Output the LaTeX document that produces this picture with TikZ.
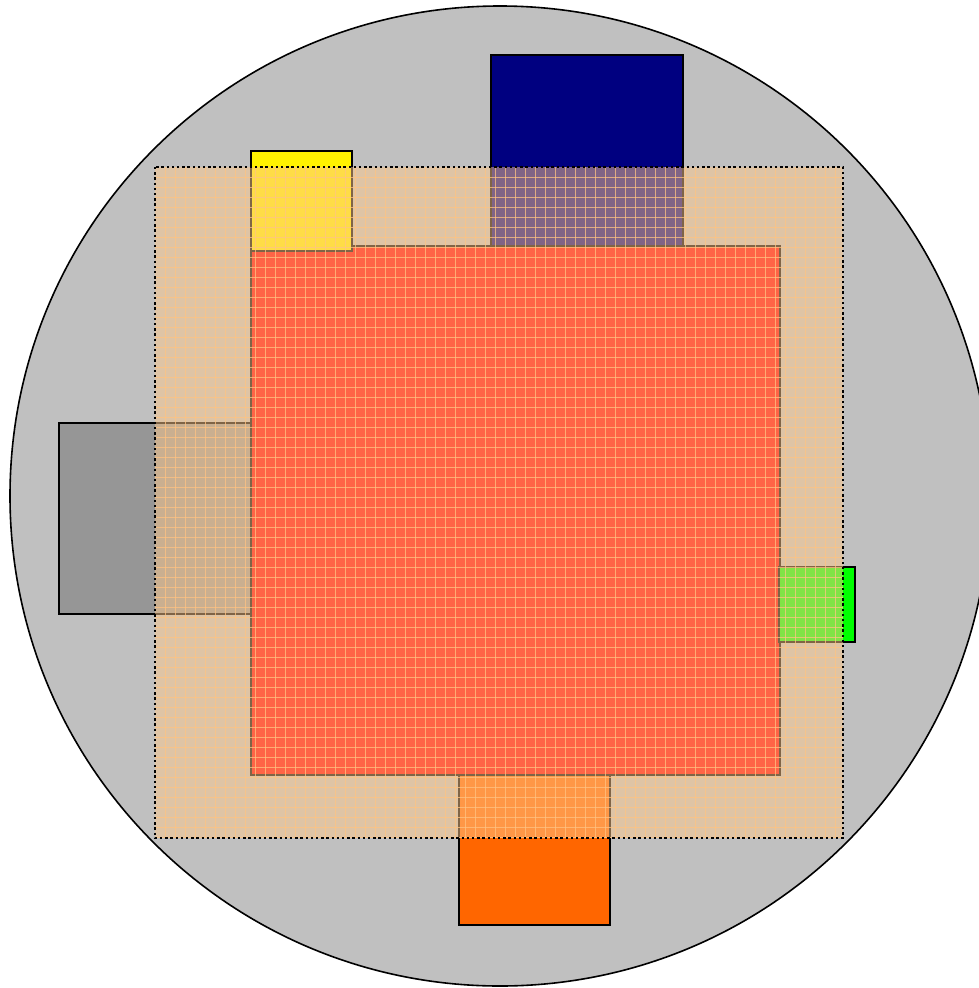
\documentclass[tikz,border=0pt]{standalone}
\begin{document}
\begin{tikzpicture}[x=1pt,y=-1pt,
  outline/.style={draw=black,line width=1.6pt},
  box/.style={outline},
  overlay/.style={fill={rgb,255:red,255;green,200;blue,140},fill opacity=0.5},
  gridline/.style={draw={rgb,255:red,255;green,195;blue,130},line width=0.9pt,opacity=0.75},
  dotborder/.style={draw=black,line width=2.4pt,dash pattern=on 2.4pt off 2.8pt}]
\useasboundingbox (0,0) rectangle (978,988);
% wafer
\draw[outline,fill={rgb,255:red,192;green,192;blue,192}] (500,496) circle (490);
% core
\draw[box,fill=red] (251,246) rectangle (780,775);
% peripheral boxes
\draw[box,fill=yellow] (251,151) rectangle (352,251);
\draw[box,fill={rgb,255:red,0;green,0;blue,128}] (491,55) rectangle (683,246);
\draw[box,fill={rgb,255:red,150;green,150;blue,150}] (59,423) rectangle (251,614);
\draw[box,fill={rgb,255:red,0;green,255;blue,0}] (779,567) rectangle (855,642);
\draw[box,fill={rgb,255:red,255;green,102;blue,0}] (459,775) rectangle (610,925);
% translucent overlay with grid
\fill[overlay] (155,167) rectangle (843,838);
\begin{scope}[shift={(155,167)}]
\foreach \i in {10,20,...,680} \draw[gridline] (\i,0) -- (\i,671);
\foreach \j in {10,20,...,670} \draw[gridline] (0,\j) -- (688,\j);
\end{scope}
\draw[dotborder] (155,167) rectangle (843,838);
\end{tikzpicture}
\end{document}
